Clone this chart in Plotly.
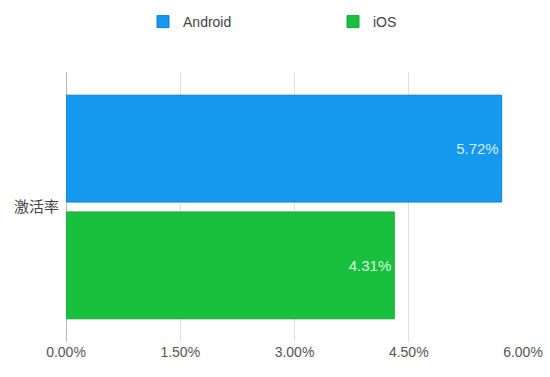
import plotly.graph_objects as go

categories = ["激活率"]
android_values = [5.72]
ios_values = [4.31]
tick_values = [0, 1.5, 3.0, 4.5, 6.0]
tick_labels = ["0.00%", "1.50%", "3.00%", "4.50%", "6.00%"]

font_family = "Liberation Sans, Arial, Noto Sans CJK SC, sans-serif"

fig = go.Figure()
fig.add_trace(go.Bar(
    name="iOS", y=categories, x=ios_values, orientation="h",
    marker=dict(color="#18c03e", line=dict(color="#10a834", width=1)),
    text=[f"{v:.2f}%" for v in ios_values], textposition="inside",
    insidetextanchor="end", textfont=dict(color="#d8f5dc", size=15),
))
fig.add_trace(go.Bar(
    name="Android", y=categories, x=android_values, orientation="h",
    marker=dict(color="#1499ee", line=dict(color="#0c7fd8", width=1)),
    text=[f"{v:.2f}%" for v in android_values], textposition="inside",
    insidetextanchor="end", textfont=dict(color="#d6ecfb", size=15),
))

fig.update_layout(
    width=550, height=377,
    margin=dict(l=66, r=27, t=72, b=35, autoexpand=False),
    paper_bgcolor="white", plot_bgcolor="white",
    font=dict(family=font_family, color="#555", size=14),
    barmode="group", bargap=0.135, bargroupgap=0.085,
    showlegend=True,
    legend=dict(orientation="h", traceorder="reversed", x=0.1685, xanchor="left",
                yref="container", y=0.9416, yanchor="middle",
                entrywidth=145, entrywidthmode="pixels",
                font=dict(size=14, color="#444")),
    uniformtext=dict(mode="show", minsize=15),
)
fig.update_xaxes(range=[0, 6], tickvals=tick_values, ticktext=tick_labels,
                 showgrid=True, gridcolor="#e0e0e0", gridwidth=1,
                 zeroline=True, zerolinecolor="#b8b8b8", zerolinewidth=1,
                 showline=False, ticks="", tickfont=dict(size=14, color="#555"))
fig.update_yaxes(showgrid=False, showline=False, ticks="", ticklabelstandoff=6,
                 tickfont=dict(size=15, color="#444"))

fig.write_html("out.html")
